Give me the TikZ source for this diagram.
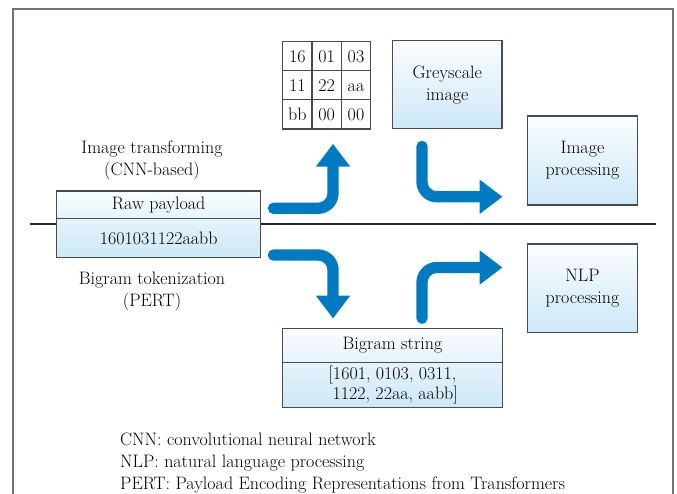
\documentclass[tikz,border=0pt]{standalone}
\usepackage{tikz}
\usetikzlibrary{arrows.meta}
\usetikzlibrary{matrix}
\usepackage{xcolor}
\definecolor{flowblue}{RGB}{0,122,192}
\definecolor{boxtop}{RGB}{250,253,255}
\definecolor{boxmid}{RGB}{229,243,251}
\definecolor{boxbot}{RGB}{205,232,247}
\definecolor{edgegray}{RGB}{75,75,75}
\definecolor{framegray}{RGB}{115,115,115}

\begin{document}
\begin{tikzpicture}[x=1pt,y=-1pt,
  every node/.style={font=\fontsize{18}{22}\selectfont},
  panel/.style={draw=edgegray,line width=1.2pt,top color=boxtop,bottom color=boxbot,align=center,inner sep=0pt,outer sep=0pt},
  cell/.style={draw=edgegray,line width=1.2pt,fill=white,minimum width=29.3pt,minimum height=29.1pt,inner sep=0pt,anchor=center,text height=12.4pt,text depth=0pt},
  flow/.style={draw=flowblue,line width=11.3pt,line cap=round,rounded corners=15pt,-{Triangle[length=22.7pt,width=34.4pt,line width=0pt]}}]
\useasboundingbox (0,0) rectangle (677,494);

% frame and divider
\draw [framegray,line width=2pt] (13.3,500) -- (13.3,9) -- (672.7,9) -- (672.7,500);
\draw [line width=2pt,black!85] (30,224) -- (656,224);

% raw payload
\node (rawhead) [panel,bottom color=boxmid,minimum width=204pt,minimum height=27.3pt] at (158.7,204.7) {Raw payload};
\node (rawbody) [panel,top color=boxmid,minimum width=204pt,minimum height=39.4pt,anchor=north] at (rawhead.south) {1601031122aabb};
\node (cnnlbl) [align=center] at (152,160) {Image transforming\\(CNN-based)};
\node (pertlbl) [align=center] at (152,292) {Bigram tokenization\\(PERT)};

% upper branch
\matrix (hexgrid) [matrix of nodes,nodes={cell},column sep=-1.2pt,row sep=-1.2pt] at (326.7,85.35) {
16 & 01 & 03\\
11 & 22 & aa\\
bb & 00 & 00\\
};
\node (grey) [panel,minimum width=109.3pt,minimum height=88pt] at (447.3,84.7) {Greyscale\\image};
\node (imgproc) [panel,minimum width=109.6pt,minimum height=89pt] at (582.5,160.5) {Image\\processing};

% lower branch
\node (bihead) [panel,bottom color=boxmid,minimum width=219.6pt,minimum height=34pt] at (392.5,345.3) {Bigram string};
\node (bibody) [panel,top color=boxmid,minimum width=219.6pt,minimum height=45pt,anchor=north,font=\fontsize{18}{20}\selectfont] at (bihead.south) {[1601, 0103, 0311,\\ \ 1122, 22aa, aabb]};
\node (nlpproc) [panel,minimum width=109.6pt,minimum height=88.3pt] at (582.5,288.2) {NLP\\processing};

% arrows
\coordinate (up1) at (273.4,208.3);   \coordinate (up2) at (333,144);
\coordinate (img1) at (422,146.4);    \coordinate (img2) at (502.3,196.8);
\coordinate (dn1) at (273.4,255);     \coordinate (dn2) at (333,318.3);
\coordinate (nlp1) at (422,318.3);    \coordinate (nlp2) at (502.3,267.5);
\draw [flow] (up1) -| (up2);
\draw [flow] (img1) |- (img2);
\draw [flow] (dn1) -| (dn2);
\draw [flow] (nlp1) |- (nlp2);

% notes
\node (notes) [anchor=north west,align=left,inner sep=0pt] at (120,433) {CNN: convolutional neural network\\NLP: natural language processing\\PERT: Payload Encoding Representations from Transformers};

\end{tikzpicture}
\end{document}
